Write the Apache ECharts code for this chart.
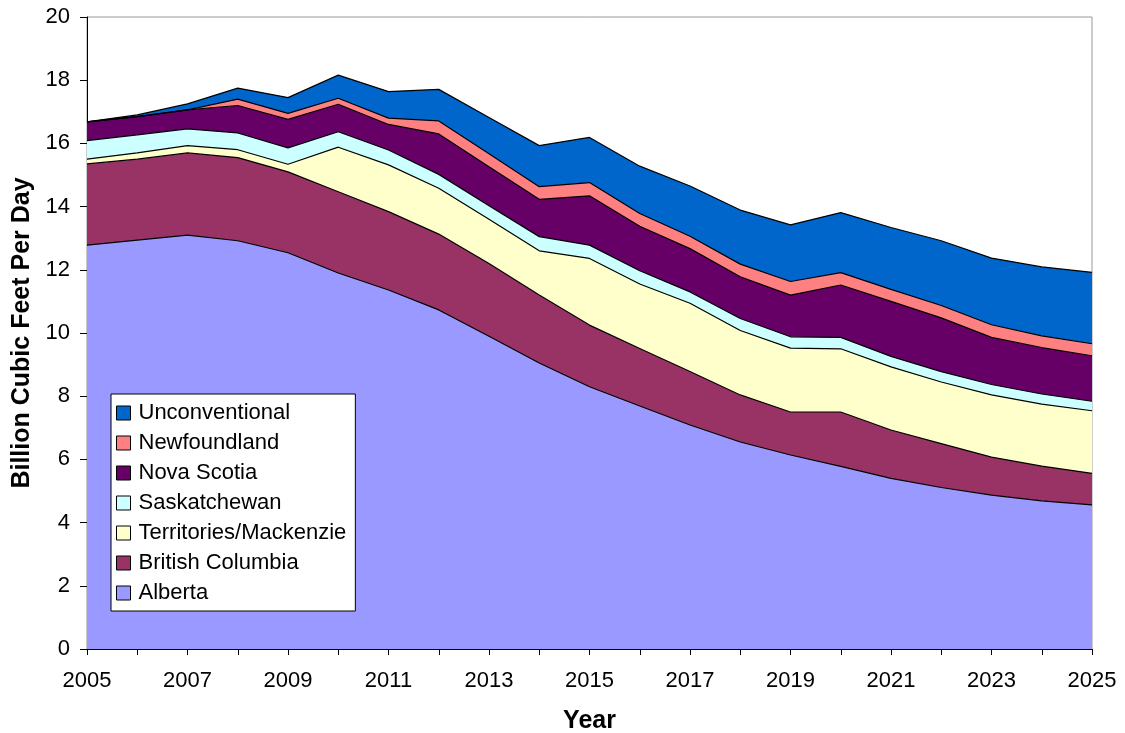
<!DOCTYPE html>
<html>
<head>
<meta charset="utf-8">
<script src="https://cdn.jsdelivr.net/npm/echarts@6/dist/echarts.min.js"></script>
<style>
  html, body { margin: 0; padding: 0; background: #fff; }
  #chart { width: 1125px; height: 733px; }
</style>
</head>
<body>
<div id="chart"></div>
<script>
// data (Bcf/d, per region, stacked bottom-up)
var years = ['2005','2006','2007','2008','2009','2010','2011','2012','2013','2014','2015',
             '2016','2017','2018','2019','2020','2021','2022','2023','2024','2025'];
var alberta      = [12.78,12.94,13.1,12.92,12.54,11.9,11.36,10.73,9.9,9.05,8.3,7.69,7.09,6.55,6.14,5.78,5.4,5.11,4.87,4.69,4.56];
var britishCol   = [2.57,2.56,2.6,2.63,2.56,2.57,2.48,2.4,2.3,2.15,1.95,1.82,1.69,1.49,1.36,1.72,1.53,1.39,1.2,1.1,1.0];
var territories  = [0.15,0.2,0.23,0.25,0.24,1.41,1.48,1.45,1.4,1.4,2.11,2.04,2.16,2.04,2.02,2.0,2.0,1.95,1.97,1.96,1.98];
var saskatchewan = [0.59,0.57,0.53,0.53,0.52,0.49,0.47,0.44,0.43,0.45,0.42,0.42,0.36,0.38,0.36,0.36,0.33,0.33,0.33,0.32,0.3];
var novaScotia   = [0.59,0.58,0.6,0.87,0.9,0.87,0.81,1.28,1.23,1.18,1.56,1.41,1.37,1.32,1.32,1.66,1.74,1.7,1.49,1.47,1.44];
var newfoundland = [0,0,0,0.2,0.19,0.19,0.2,0.41,0.41,0.4,0.42,0.4,0.39,0.4,0.43,0.39,0.38,0.39,0.4,0.37,0.38];
var unconv       = [0,0.05,0.19,0.35,0.5,0.73,0.84,1.0,1.15,1.3,1.43,1.5,1.59,1.71,1.79,1.9,1.96,2.05,2.11,2.18,2.26];
var yTicks = [0,2,4,6,8,10,12,14,16,18,20];

var font = 'Liberation Sans, Arial, sans-serif';

function area(name, data, color){
  return {
    name: name,
    type: 'line',
    stack: 'total',
    data: data,
    showSymbol: false,
    symbol: 'none',
    lineStyle: { color: '#000', width: 1.2 },
    areaStyle: { color: color, opacity: 1 },
    itemStyle: { color: color, borderColor: '#000', borderWidth: 1 },
    emphasis: { disabled: true }
  };
}

var myChart = echarts.init(document.getElementById('chart'));
myChart.setOption({
  animation: false,
  backgroundColor: '#fff',
  textStyle: { fontFamily: font },
  grid: {
    left: 87, right: 33, top: 17, bottom: 84,
    outerBoundsMode: 'none',
    containLabel: false,
    show: true, borderColor: '#999', borderWidth: 1
  },
  legend: {
    orient: 'vertical',
    left: 111, top: 394,
    backgroundColor: '#fff',
    borderColor: '#000', borderWidth: 1,
    padding: [8, 9, 7, 5],
    itemGap: 8,
    itemWidth: 14, itemHeight: 14,
    icon: 'rect',
    itemStyle: { borderColor: '#000', borderWidth: 1 },
    textStyle: { fontFamily: font, fontSize: 22, color: '#000', padding: [0, 0, 0, 3] },
    data: ['Unconventional','Newfoundland','Nova Scotia','Saskatchewan','Territories/Mackenzie','British Columbia','Alberta']
  },
  xAxis: {
    type: 'category',
    data: years,
    boundaryGap: false,
    name: 'Year',
    nameLocation: 'middle',
    nameGap: 60,
    nameTextStyle: { fontFamily: font, fontSize: 25, fontWeight: 'bold', color: '#000' },
    axisLine: { lineStyle: { color: '#000', width: 1 } },
    axisTick: { interval: 0, length: 6, lineStyle: { color: '#000' } },
    axisLabel: { interval: 1, margin: 21, fontFamily: font, fontSize: 22, color: '#000' },
    splitLine: { show: false }
  },
  yAxis: {
    type: 'value',
    min: yTicks[0], max: yTicks[yTicks.length - 1], interval: 2,
    name: 'Billion Cubic Feet Per Day',
    nameLocation: 'middle',
    nameGap: 52,
    nameRotate: 90,
    nameTextStyle: { fontFamily: font, fontSize: 25, fontWeight: 'bold', color: '#000' },
    axisLine: { show: true, lineStyle: { color: '#000', width: 1 } },
    axisTick: { show: true, length: 7, lineStyle: { color: '#000' } },
    axisLabel: { margin: 17, fontFamily: font, fontSize: 22, color: '#000' },
    splitLine: { show: false }
  },
  series: [
    area('Alberta', alberta, '#9999FF'),
    area('British Columbia', britishCol, '#993366'),
    area('Territories/Mackenzie', territories, '#FFFFCC'),
    area('Saskatchewan', saskatchewan, '#CCFFFF'),
    area('Nova Scotia', novaScotia, '#660066'),
    area('Newfoundland', newfoundland, '#FF8080'),
    area('Unconventional', unconv, '#0066CC')
  ]
});
</script>
</body>
</html>
